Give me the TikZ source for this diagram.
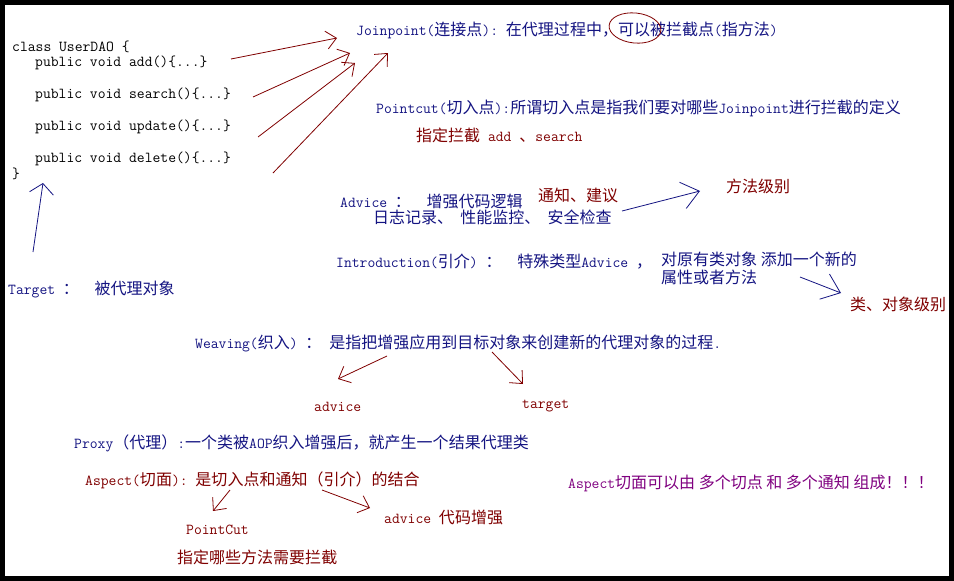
\documentclass[tikz,border=0pt]{standalone}
\usepackage{fontspec}
\newfontfamily\cjk[Scale=1.053]{Noto Sans CJK SC}
\usetikzlibrary{arrows.meta, shapes.geometric}
\definecolor{mynavy}{RGB}{20,20,130}
\definecolor{mymaroon}{RGB}{128,0,0}
\definecolor{mypurple}{RGB}{128,0,128}
\newcommand{\zh}[1]{{\cjk #1}}
\tikzset{
  txt/.style={anchor=west, inner sep=0pt, font=\ttfamily\fontsize{15.2}{18}\selectfont},
  navytxt/.style={txt, text=mynavy},
  redtxt/.style={txt, text=mymaroon},
  purpletxt/.style={txt, text=mypurple},
  barb/.style={-{Straight Barb[length=10pt,width=18pt]}, line width=0.8pt},
  bigbarb/.style={-{Straight Barb[length=17pt,width=27pt]}, line width=0.8pt}
}

\begin{document}
\begin{tikzpicture}[x=1pt, y=-1pt]
  % Frame
  \fill[black] (0,0) rectangle (954,581);
  \fill[white] (5,5) rectangle (949,576);

  % Class code
  \node[txt] (cls) at (12,47) {class UserDAO \{};
  \node[txt] (add) at (35,63) {public void add()\{...\}};
  \node[txt] (search) at (35,95) {public void search()\{...\}};
  \node[txt] (update) at (35,127) {public void update()\{...\}};
  \node[txt] (delete) at (35,159) {public void delete()\{...\}};
  \node[txt] (clsend) at (12,174) {\}};
  \node[navytxt] (target) at (8,289) {Target \zh{：}\ \ \zh{被代理对象}};

  % Definitions
  \node[navytxt] (joinpoint) at (356,30) {Joinpoint(\zh{连接点}):\ \zh{在代理过程中，可以被拦截点}(\zh{指方法})};
  \node[draw=mymaroon, line width=0.8pt, ellipse, minimum width=52pt, minimum height=30pt, rotate=-6] (ring) at (635,28) {};
  \node[navytxt] (pointcut) at (376,108) {Pointcut(\zh{切入点}):\zh{所谓切入点是指我们要对哪些}Joinpoint\zh{进行拦截的定义}};
  \node[redtxt] (pcnote) at (416,135) {\zh{指定拦截}\ add \zh{、}search};

  \node[navytxt] (advice) at (340,201) {Advice \zh{：}\ \ \zh{增强代码逻辑}};
  \node[redtxt] (tongzhi) at (538,195) {\zh{通知、建议}};
  \node[navytxt] (advuse) at (373,217) {\zh{日志记录、\ \ 性能监控、\ \ 安全检查}};
  \node[redtxt] (methodlvl) at (726,186) {\zh{方法级别}};

  \node[navytxt] (intro) at (336,262) {Introduction(\zh{引介}) \zh{：}\ \ \zh{特殊类型}Advice \zh{，}};
  \node[navytxt] (introuse) at (661,259) {\zh{对原有类对象 添加一个新的}};
  \node[navytxt] (introuse2) at (661,277) {\zh{属性或者方法}};
  \node[redtxt] (classlvl) at (850,304) {\zh{类、对象级别}};

  \node[navytxt] (weaving) at (195,343) {Weaving(\zh{织入}) \zh{：}\ \zh{是指把增强应用到目标对象来创建新的代理对象的过程}.};
  \node[redtxt] (wadvice) at (314,407) {advice};
  \node[redtxt] (wtarget) at (522,406) {target};

  \node[navytxt] (proxy) at (74,443) {Proxy\zh{（代理）}:\zh{一个类被}AOP\zh{织入增强后，就产生一个结果代理类}};

  \node[redtxt] (aspect) at (85,480) {Aspect(\zh{切面}):\ \zh{是切入点和通知（引介）的结合}};
  \node[redtxt] (apointcut) at (186,530) {PointCut};
  \node[redtxt] (apcnote) at (177,557) {\zh{指定哪些方法需要拦截}};
  \node[redtxt] (aadvice) at (384,517) {advice \zh{代码增强}};
  \node[purpletxt] (aspectnote) at (568,483) {Aspect\zh{切面可以由 多个切点 和 多个通知 组成！！！}};

  % Arrow ends
  \coordinate (t1) at (231,59);  \coordinate (h1) at (337,38);
  \coordinate (t2) at (253,97);  \coordinate (h2) at (350,53);
  \coordinate (t3) at (258,137); \coordinate (h3) at (355,63);
  \coordinate (t4) at (273,173); \coordinate (h4) at (388,53);
  \coordinate (tt) at (33,252);  \coordinate (ht) at (43,183);
  \coordinate (ta) at (622,211); \coordinate (ha) at (700,191);
  \coordinate (ti) at (800,277); \coordinate (hi) at (841,293);
  \coordinate (tw1) at (387,356); \coordinate (hw1) at (338,379);
  \coordinate (tw2) at (492,352); \coordinate (hw2) at (523,384);
  \coordinate (ts1) at (230,490); \coordinate (hs1) at (213,511);
  \coordinate (ts2) at (322,490); \coordinate (hs2) at (370,508);

  % Arrows
  \draw[barb, mymaroon] (t1) -- (h1);
  \draw[barb, mymaroon] (t2) -- (h2);
  \draw[barb, mymaroon] (t3) -- (h3);
  \draw[barb, mymaroon] (t4) -- (h4);
  \draw[-{Straight Barb[length=10pt,width=24pt]}, line width=0.8pt, mynavy] (tt) -- (ht);
  \draw[bigbarb, mynavy] (ta) -- (ha);
  \draw[bigbarb, mynavy] (ti) -- (hi);
  \draw[barb, mymaroon] (tw1) -- (hw1);
  \draw[barb, mymaroon] (tw2) -- (hw2);
  \draw[barb, mymaroon] (ts1) -- (hs1);
  \draw[barb, mymaroon] (ts2) -- (hs2);
\end{tikzpicture}
\end{document}
